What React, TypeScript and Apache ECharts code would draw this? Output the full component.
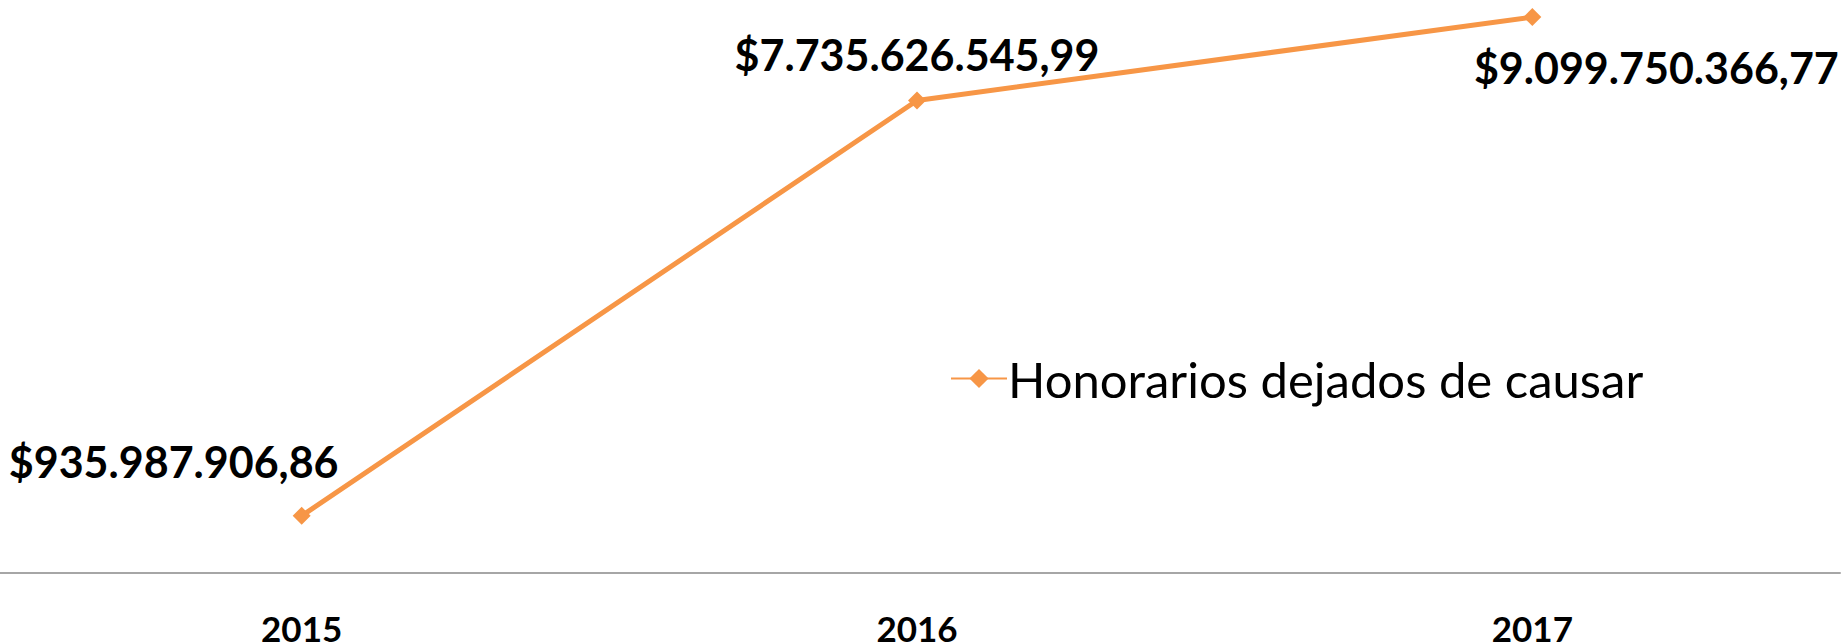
import React, { useEffect, useRef } from "react";
import * as echarts from "echarts";

const categories = ["2015", "2016", "2017"];
const values = [935987906.86, 7735626545.99, 9099750366.77];
const seriesName = "Honorarios dejados de causar";

const labelOffsets: [number, number][] = [
  [-128, -54],
  [0, -46],
  [124, 50],
];

function fmt(v: number): string {
  const [intPart, dec] = v.toFixed(2).split(".");
  const withDots = intPart.replace(/\B(?=(\d{3})+(?!\d))/g, ".");
  return "$" + withDots + "," + dec;
}

export default function App() {
  const ref = useRef<HTMLDivElement>(null);
  useEffect(() => {
    if (!ref.current) return;
    const chart = echarts.init(ref.current, undefined, { renderer: "svg" });
    const orange = "#F79646";
    chart.setOption({
      animation: false,
      backgroundColor: "#ffffff",
      grid: {
        left: -6,
        right: 3,
        top: 0,
        bottom: 71,
        containLabel: false,
        outerBoundsMode: "none",
      },
      legend: {
        show: true,
        left: 945,
        top: 349,
        itemWidth: 56,
        itemHeight: 24,
        itemGap: 0,
        textStyle: {
          fontFamily: "Lato",
          fontSize: 49,
          color: "#000000",
          padding: [0, 0, 0, -4],
        },
        data: [{ name: seriesName }],
      },
      xAxis: {
        type: "category",
        data: categories,
        boundaryGap: true,
        axisLine: { show: true, lineStyle: { color: "#a6a6a6", width: 2 } },
        axisTick: { show: false },
        axisLabel: {
          color: "#000000",
          fontFamily: "Lato",
          fontWeight: "bold",
          fontSize: 35,
          lineHeight: 30,
          margin: 40,
        },
      },
      yAxis: {
        type: "value",
        min: 0,
        max: 9380000000,
        show: false,
        splitLine: { show: false },
      },
      series: [
        {
          name: seriesName,
          type: "line",
          data: values.map((v, i) => ({
            value: v,
            label: {
              show: true,
              position: "inside",
              offset: labelOffsets[i],
            },
          })),
          symbol: "diamond",
          symbolSize: 18,
          itemStyle: { color: orange },
          lineStyle: { color: orange, width: 5 },
          label: {
            show: true,
            formatter: (p: any) => fmt(p.value),
            color: "#000000",
            fontFamily: "Lato",
            fontWeight: "bold",
            fontSize: 43,
          },
        },
      ],
    });
    return () => chart.dispose();
  }, []);
  return (
    <div
      ref={ref}
      style={{ position: "absolute", left: 0, top: 0, width: 1843, height: 644 }}
    />
  );
}
